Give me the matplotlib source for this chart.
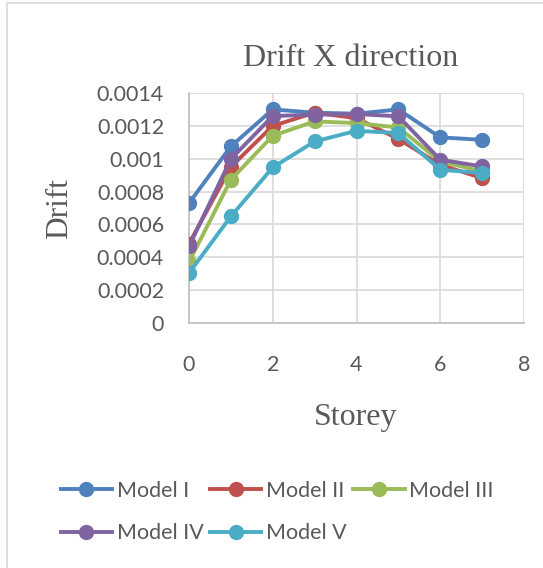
import matplotlib
matplotlib.use("Agg")
import matplotlib.pyplot as plt
from matplotlib.patches import Rectangle
from matplotlib.ticker import FuncFormatter, MultipleLocator

# Data
storey = [0, 1, 2, 3, 4, 5, 6, 7]
model_1 = [0.00073, 0.001075, 0.0013, 0.00128, 0.001274, 0.0013, 0.00113, 0.001115]
model_2 = [0.000483, 0.00095, 0.0012, 0.00128, 0.001247, 0.00112, 0.000963, 0.000882]
model_3 = [0.000371, 0.000872, 0.00114, 0.001227, 0.001217, 0.00119, 0.000984, 0.000923]
model_4 = [0.000467, 0.000998, 0.00126, 0.001268, 0.001272, 0.001258, 0.000994, 0.000953]
model_5 = [0.000304, 0.000649, 0.000947, 0.001105, 0.00117, 0.001156, 0.000933, 0.000913]

series = [
    ("Model I", model_1, "#4F81BD"),
    ("Model II", model_2, "#C0504D"),
    ("Model III", model_3, "#9BBB59"),
    ("Model IV", model_4, "#8064A2"),
    ("Model V", model_5, "#4BACC6"),
]

W, H = 543, 568
text_color = "#595959"
sans = ["Lato", "DejaVu Sans"]
serif = ["Liberation Serif", "DejaVu Serif"]

fig = plt.figure(figsize=(W / 100, H / 100), dpi=100)
ax = fig.add_axes([189 / W, 1 - 323 / H, (524 - 189) / W, (323 - 93) / H])

# Outer chart border
fig.patches.append(Rectangle((7 / W, -0.1), 1.2, 1 - 3 / H + 0.1, transform=fig.transFigure,
                             fill=False, edgecolor="#D9D9D9", linewidth=1.2, clip_on=False))

lines = []
for name, vals, col in series:
    ln, = ax.plot(storey, vals, color=col, linewidth=2.8, marker="o", markersize=10,
                  label=name, zorder=3)
    lines.append(ln)

ax.set_xlim(0, 8)
ax.set_ylim(0, 0.0014)
ax.xaxis.set_major_locator(MultipleLocator(2))
ax.yaxis.set_major_locator(MultipleLocator(0.0002))
ax.yaxis.set_major_formatter(FuncFormatter(lambda v, p: f"{v:g}"))
ax.grid(True, color="#D9D9D9", linewidth=1.2, zorder=0)
ax.set_axisbelow(True)

for s in ["top", "right"]:
    ax.spines[s].set_visible(False)
for s in ["left", "bottom"]:
    ax.spines[s].set_color("#BFBFBF")
    ax.spines[s].set_linewidth(1.2)

ax.tick_params(axis="both", length=0, labelsize=15.5, labelcolor=text_color)
ax.tick_params(axis="y", pad=18)
ax.tick_params(axis="x", pad=23)
for lbl in ax.get_xticklabels() + ax.get_yticklabels():
    lbl.set_family(sans)

fig.text(351 / W, 1 - 58 / H, "Drift X direction", family=serif, fontsize=23,
         color=text_color, ha="center", va="center")
fig.text(356 / W, 1 - 417 / H, "Storey", family=serif, fontsize=23,
         color=text_color, ha="center", va="center")
fig.text(60 / W, 1 - 209 / H, "Drift", family=serif, fontsize=22.5,
         color=text_color, ha="center", va="center", rotation=90)

# Legend: reorder so rows read I, II, III / IV, V
order = [0, 3, 1, 4, 2]
leg = fig.legend([lines[i] for i in order], [series[i][0] for i in order],
                 loc="center left", bbox_to_anchor=(52 / W, 1 - 512 / H), ncol=3,
                 frameon=False, prop={"family": sans, "size": 15.5},
                 handlelength=2.4, handletextpad=0.2, columnspacing=0.3,
                 labelspacing=1.05, borderaxespad=0)
for t in leg.get_texts():
    t.set_color(text_color)

plt.savefig("out.png", dpi=100)
plt.close()
